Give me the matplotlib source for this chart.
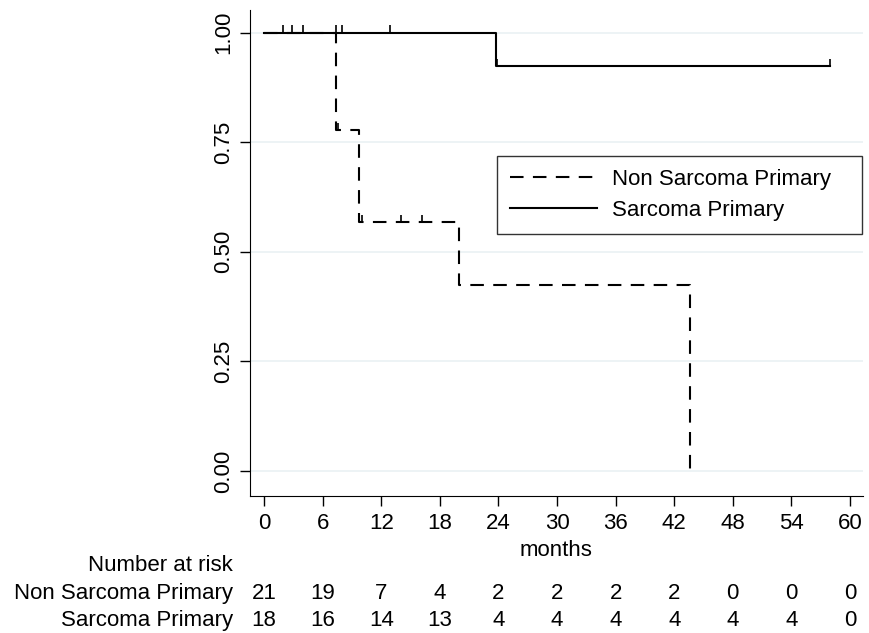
import numpy as np
import matplotlib
matplotlib.use("Agg")
import matplotlib.pyplot as plt

plt.rcParams["font.family"] = ["Liberation Sans", "DejaVu Sans"]

# Kaplan-Meier steps
ns_times = [0, 7.4, 9.7, 20.0, 43.6]
ns_surv = [1.0, 0.778, 0.567, 0.425, 0.0]
ns_cens_t = [7.6, 10.0, 14.0, 16.2]
ns_cens_s = [0.778, 0.567, 0.567, 0.567]

sa_times = [0, 23.7, 58.0]
sa_surv = [1.0, 0.923, 0.923]
sa_cens_t = [1.9, 2.9, 4.0, 7.4, 8.0, 12.9, 23.8, 58.0]
sa_cens_s = [1.0, 1.0, 1.0, 1.0, 1.0, 1.0, 0.923, 0.923]

risk_times = [0, 6, 12, 18, 24, 30, 36, 42, 48, 54, 60]
risk_ns = [21, 19, 7, 4, 2, 2, 2, 2, 0, 0, 0]
risk_sa = [18, 16, 14, 13, 4, 4, 4, 4, 4, 4, 0]
labels = ["Non Sarcoma Primary", "Sarcoma Primary"]

fig = plt.figure(figsize=(8.69, 6.33), dpi=100)
ax = fig.add_axes([0.2877, 0.2164, 0.705, 0.768])

fs = 16
for y in [0, 0.25, 0.5, 0.75, 1.0]:
    ax.axhline(y, color="#eaf1f4", lw=1.2, zorder=0)

ax.step(ns_times, ns_surv, where="post", color="black", lw=1.5,
        dashes=(6.5, 4.5), label=labels[0])
ax.step(sa_times, sa_surv, where="post", color="black", lw=1.5,
        label=labels[1])
tick_h = 0.017
ax.vlines(ns_cens_t, ns_cens_s, np.array(ns_cens_s) + tick_h, color="black", lw=1.2)
ax.vlines(sa_cens_t, sa_cens_s, np.array(sa_cens_s) + tick_h, color="black", lw=1.2)

ax.set_xlim(-1.45, 61.3)
ax.set_ylim(-0.057, 1.052)
ax.set_xticks(risk_times)
ax.set_yticks([0, 0.25, 0.5, 0.75, 1.0])
ax.set_yticklabels(["0.00", "0.25", "0.50", "0.75", "1.00"], rotation=90, va="center")
ax.tick_params(labelsize=fs, length=7.5, width=1, color="black")
ax.tick_params(axis="y", pad=4)
ax.tick_params(axis="x", pad=5)
ax.spines["top"].set_visible(False)
ax.spines["right"].set_visible(False)
ax.set_xlabel("months", fontsize=fs, labelpad=4)

leg = ax.legend(loc="upper left", bbox_to_anchor=(0.403, 0.50, 0.5955, 0.20),
                mode="expand", fontsize=fs, frameon=True, fancybox=False,
                edgecolor="black", handlelength=3.9, handletextpad=0.7,
                borderpad=0.6, borderaxespad=0, labelspacing=0.45)
leg.get_frame().set_linewidth(1.0)

# number at risk table
trans = ax.get_xaxis_transform()
lab_x = -3.2
ax.text(lab_x, -0.1435, "Number at risk", transform=trans,
        ha="right", va="center", fontsize=fs, clip_on=False)
for lab, vals, yy in zip(labels, [risk_ns, risk_sa], [-0.2005, -0.2553]):
    ax.text(lab_x, yy, lab, transform=trans, ha="right", va="center",
            fontsize=fs, clip_on=False)
    for t, v in zip(risk_times, vals):
        ax.text(t, yy, str(v), transform=trans, ha="center", va="center",
                fontsize=fs, clip_on=False)

fig.savefig("out.png", dpi=100)
